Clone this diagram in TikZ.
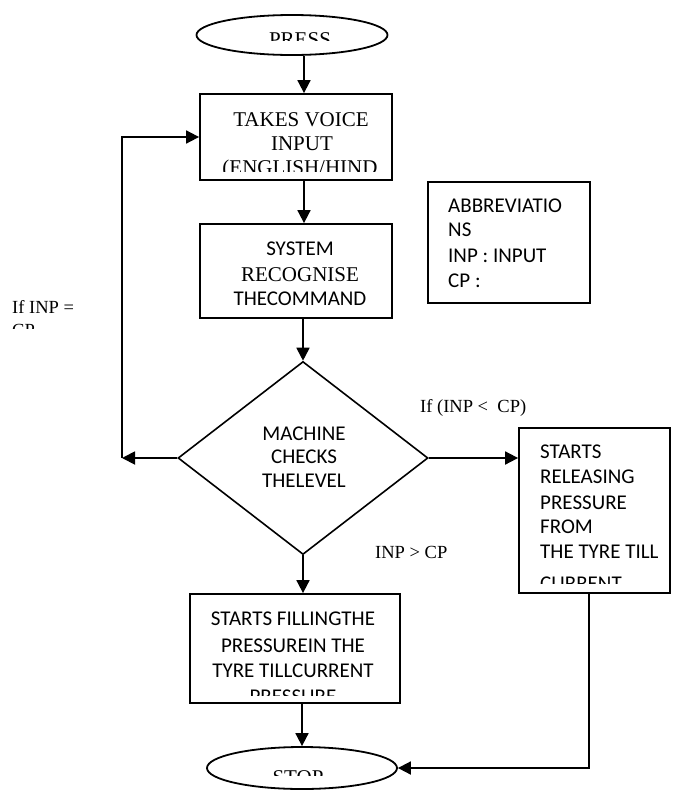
\documentclass[tikz,border=0pt]{standalone}
\usepackage{fontspec}
\setmainfont{Liberation Serif}
\newfontfamily\carl{Carlito}
\usetikzlibrary{shapes.geometric,arrows.meta}
\begin{document}
\begin{tikzpicture}[x=1pt,y=-1pt,
  box/.style={draw,line width=1.8pt,rectangle,inner sep=0pt},
  oval/.style={draw,line width=1.8pt,ellipse,inner sep=0pt},
  dmd/.style={draw,line width=1.6pt,diamond,inner sep=0pt},
  arr/.style={line width=1.8pt,-{Triangle[length=13pt,width=13pt]}},
  ser/.style={font=\fontsize{21}{25}\selectfont,inner sep=0pt,anchor=base},
  san/.style={font=\carl\fontsize{21}{25}\selectfont,inner sep=0pt,anchor=base},
  serw/.style={ser,anchor=base west},
  sanw/.style={san,anchor=base west},
  lbl/.style={font=\fontsize{18.5}{24}\selectfont,inner sep=0pt,anchor=base west}]
\useasboundingbox[fill=white] (0,0) rectangle (675,790);

% shapes
\node[oval,minimum width=191pt,minimum height=40pt] (press) at (292,35) {};
\node[box,minimum width=192pt,minimum height=86pt] (box1) at (296,137) {};
\node[box,minimum width=192pt,minimum height=94pt] (box2) at (296,271) {};
\node[box,minimum width=162pt,minimum height=121pt] (abbr) at (509,242.5) {};
\node[dmd,minimum width=250pt,minimum height=193pt] (dia) at (303,458) {};
\node[box,minimum width=151pt,minimum height=165pt] (rbox) at (594.5,510.5) {};
\node[box,minimum width=210pt,minimum height=109pt] (bbox) at (295,648.5) {};
\node[oval,minimum width=190pt,minimum height=42pt] (stop) at (302,768) {};

% texts
\begin{scope}
\clip (150,0) rectangle (450,40);
\node[ser] (tpress) at (300,46) {PRESS};
\end{scope}
\node[ser] (t1a) at (301,126) {TAKES VOICE};
\node[ser] (t1b) at (302,150) {INPUT};
\begin{scope}
\clip (150,140) rectangle (450,171);
\node[ser] (t1c) at (300,174) {(ENGLISH/HIND};
\end{scope}

\node[san] (t2a) at (300,255) {SYSTEM};
\node[ser] (t2b) at (300,281) {RECOGNISE};
\node[san] (t2c) at (300,305) {THECOMMAND};

\node[sanw] (ta1) at (448,212) {ABBREVIATIO};
\node[sanw] (ta2) at (448,236) {NS};
\node[sanw] (ta3) at (448,262) {INP : INPUT};
\node[sanw] (ta4) at (448,287) {CP :};

\node[san] (td1) at (304,440) {MACHINE};
\node[san] (td2) at (304,463) {CHECKS};
\node[san] (td3) at (304,487) {THELEVEL};

\node[sanw] (tr1) at (540,458) {STARTS};
\node[sanw] (tr2) at (540,483) {RELEASING};
\node[sanw] (tr3) at (540,509) {PRESSURE};
\node[sanw] (tr4) at (540,533) {FROM};
\node[sanw] (tr5) at (540,558) {THE TYRE TILL};
\begin{scope}
\clip (530,560) rectangle (668,583);
\node[sanw] (tr6) at (540,590) {CURRENT};
\end{scope}

\node[san] (tb1) at (293,625) {STARTS FILLINGTHE};
\node[san] (tb2) at (293,652) {PRESSUREIN THE};
\node[san] (tb3) at (293,677) {TYRE TILLCURRENT};
\begin{scope}
\clip (200,680) rectangle (390,695);
\node[san] (tb4) at (293,703) {PRESSURE};
\end{scope}

\begin{scope}
\clip (200,750) rectangle (390,775);
\node[ser] (tstop) at (298,784) {STOP};
\end{scope}

\node[lbl] (lq) at (12,313) {If INP =};
\begin{scope}
\clip (0,318) rectangle (120,328);
\node[lbl] (lq2) at (12,336) {CP};
\end{scope}
\node[lbl] (llt) at (420,412) {If (INP <\ \ CP)};
\node[lbl] (lgt) at (375,558) {INP > CP};

% connectors
\coordinate (cx) at (304,0);
\coordinate (lft) at (122,458);
\coordinate (rgt) at (589,0);
\draw[arr] (press.south -| cx) -- (box1.north -| cx);
\draw[arr] (box1.south -| cx) -- (box2.north -| cx);
\draw[arr] (box2.south -| dia.north) -- (dia.north);
\draw[arr] (dia.west) -- (lft);
\draw[arr] (lft) |- (box1.west);
\draw[arr] (dia.east) -- (dia.east -| rbox.west);
\draw[arr] (dia.south) -- (bbox.north -| dia.south);
\draw[arr] (bbox.south -| stop.north) -- (stop.north);
\draw[arr] (rbox.south -| rgt) |- (stop.east);
\end{tikzpicture}
\end{document}
